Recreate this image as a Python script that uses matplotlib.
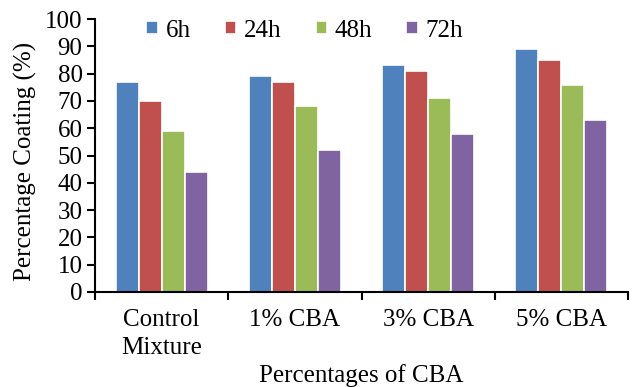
import matplotlib
matplotlib.use('Agg')
import matplotlib.pyplot as plt
import numpy as np

categories = ['Control\nMixture', '1% CBA', '3% CBA', '5% CBA']
series_names = ['6h', '24h', '48h', '72h']
v_6h = [77, 79, 83, 89]
v_24h = [70, 77, 81, 85]
v_48h = [59, 68, 71, 76]
v_72h = [44, 52, 58, 63]
colors = ['#4F81BD', '#C0504D', '#9BBB59', '#8064A2']

plt.rcParams['font.family'] = ['Liberation Serif', 'DejaVu Serif']
plt.rcParams['font.size'] = 18

fig = plt.figure(figsize=(6.34, 3.87), dpi=100)
ax = fig.add_axes([95 / 634, 1 - 292 / 387, 533 / 634, 273 / 387])

x = np.arange(len(categories))
slot = 0.173
for i, (name, vals) in enumerate(zip(series_names, [v_6h, v_24h, v_48h, v_72h])):
    ax.bar(x + (i - 1.5) * slot, vals, width=slot, color=colors[i],
           edgecolor='white', linewidth=1.2, label=name)

ax.set_xlim(-0.5, len(categories) - 0.5)
ax.set_ylim(0, 100)
ax.set_yticks(range(0, 101, 10))
ax.set_xticks(np.arange(-0.5, len(categories), 1.0))
ax.set_xticklabels([])
ax.set_xticks(x, minor=True)
ax.set_xticklabels(categories, minor=True, linespacing=1.35)
ax.tick_params(axis='x', which='minor', length=0, pad=12)
ax.tick_params(axis='x', which='major', direction='out', length=6, width=1.5)
ax.tick_params(axis='y', direction='out', length=6, width=1.5, pad=3)
for s in ['top', 'right']:
    ax.spines[s].set_visible(False)
for s in ['left', 'bottom']:
    ax.spines[s].set_linewidth(1.5)

ax.set_ylabel('Percentage Coating (%)')
ax.yaxis.set_label_coords(-0.108, 0.48)
ax.set_xlabel('Percentages of CBA', labelpad=4)

ax.legend(ncol=4, loc='upper left', bbox_to_anchor=(0.054, 1.08), frameon=False,
          handlelength=0.45, handleheight=0.45, handletextpad=0.32, columnspacing=1.36)

fig.savefig('out.png', dpi=100)
